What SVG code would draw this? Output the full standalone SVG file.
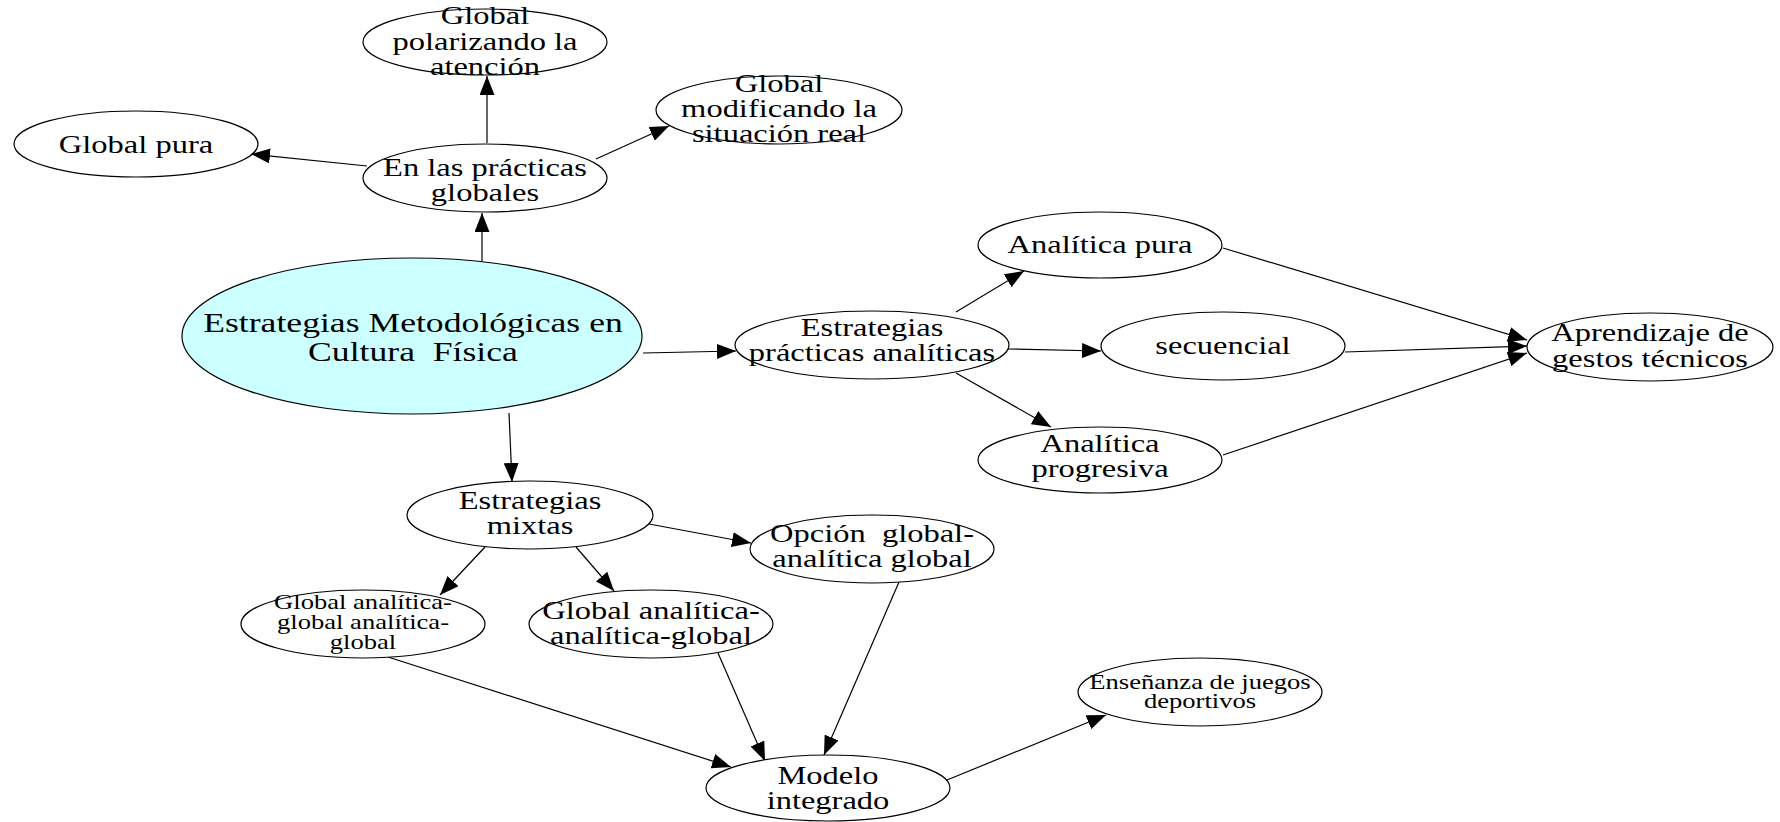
<svg xmlns="http://www.w3.org/2000/svg" width="1780" height="822" viewBox="0 0 1780 822">
<defs>
<marker id="ah" markerUnits="userSpaceOnUse" markerWidth="19" markerHeight="15" refX="19" refY="7.5" orient="auto">
<path d="M0,0 L19,7.5 L0,15 z" fill="#000"/>
</marker>
<style>
ellipse{fill:#fff;stroke:#000;stroke-width:1.2}
.main ellipse{fill:#ccffff}
text{font-family:"Liberation Serif","Times New Roman",serif;font-size:25px;fill:#000;text-anchor:middle;white-space:pre}
.m{font-size:27px}
.s{font-size:20px}
#edges line{stroke:#000;stroke-width:1.2;marker-end:url(#ah)}
</style>
</defs>
<rect width="1780" height="822" fill="#fff"/>
<g id="edges">
<line x1="482" y1="278" x2="482" y2="213"/>
<line x1="487" y1="143" x2="487" y2="76"/>
<line x1="367" y1="166" x2="251" y2="154"/>
<line x1="596" y1="159" x2="669" y2="126"/>
<line x1="643" y1="353" x2="736" y2="351"/>
<line x1="509" y1="413" x2="512" y2="482"/>
<line x1="956" y1="312" x2="1024" y2="271"/>
<line x1="1008" y1="349" x2="1101" y2="351"/>
<line x1="956" y1="373" x2="1051" y2="427"/>
<line x1="1223" y1="248" x2="1527" y2="340"/>
<line x1="1345" y1="352" x2="1527" y2="346"/>
<line x1="1223" y1="455" x2="1527" y2="353"/>
<line x1="649" y1="524" x2="751" y2="543"/>
<line x1="485" y1="547" x2="440" y2="595"/>
<line x1="576" y1="547" x2="614" y2="591"/>
<line x1="388" y1="657" x2="731" y2="767"/>
<line x1="718" y1="653" x2="765" y2="761"/>
<line x1="899" y1="582" x2="824" y2="755"/>
<line x1="947" y1="780" x2="1106" y2="715"/>
</g>
<g id="n_main" class="main">
<ellipse cx="412" cy="336" rx="230" ry="78"/>
<text class="m" transform="translate(413,0) scale(1.32,1)"><tspan x="0" y="332">Estrategias Metodológicas en</tspan><tspan x="0" y="361">Cultura  Física</tspan></text>
</g>
<g id="n_practicas_globales">
<ellipse cx="485" cy="178" rx="122" ry="34"/>
<text transform="translate(485,0) scale(1.3,1)"><tspan x="0" y="176">En las prácticas</tspan><tspan x="0" y="201">globales</tspan></text>
</g>
<g id="n_polarizando">
<ellipse cx="485" cy="42" rx="122" ry="33"/>
<text transform="translate(485,0) scale(1.3,1)"><tspan x="0" y="24">Global</tspan><tspan x="0" y="50">polarizando la</tspan><tspan x="0" y="75">atención</tspan></text>
</g>
<g id="n_global_pura">
<ellipse cx="136" cy="144" rx="122" ry="33"/>
<text transform="translate(136,0) scale(1.3,1)"><tspan x="0" y="153">Global pura</tspan></text>
</g>
<g id="n_modificando">
<ellipse cx="779" cy="110" rx="123" ry="34"/>
<text transform="translate(779,0) scale(1.3,1)"><tspan x="0" y="92">Global</tspan><tspan x="0" y="117">modificando la</tspan><tspan x="0" y="142">situación real</tspan></text>
</g>
<g id="n_practicas_analiticas">
<ellipse cx="872" cy="345" rx="137" ry="34"/>
<text transform="translate(872,0) scale(1.3,1)"><tspan x="0" y="336">Estrategias</tspan><tspan x="0" y="361">prácticas analíticas</tspan></text>
</g>
<g id="n_analitica_pura">
<ellipse cx="1100" cy="245" rx="122" ry="33"/>
<text transform="translate(1100,0) scale(1.3,1)"><tspan x="0" y="253">Analítica pura</tspan></text>
</g>
<g id="n_secuencial">
<ellipse cx="1223" cy="346" rx="122" ry="34"/>
<text transform="translate(1223,0) scale(1.3,1)"><tspan x="0" y="354">secuencial</tspan></text>
</g>
<g id="n_analitica_progresiva">
<ellipse cx="1100" cy="460" rx="122" ry="33"/>
<text transform="translate(1100,0) scale(1.3,1)"><tspan x="0" y="452">Analítica</tspan><tspan x="0" y="477">progresiva</tspan></text>
</g>
<g id="n_aprendizaje">
<ellipse cx="1650" cy="347" rx="123" ry="34"/>
<text transform="translate(1650,0) scale(1.3,1)"><tspan x="0" y="341">Aprendizaje de</tspan><tspan x="0" y="367">gestos técnicos</tspan></text>
</g>
<g id="n_mixtas">
<ellipse cx="530" cy="515" rx="123" ry="34"/>
<text transform="translate(530,0) scale(1.3,1)"><tspan x="0" y="509">Estrategias</tspan><tspan x="0" y="534">mixtas</tspan></text>
</g>
<g id="n_opcion">
<ellipse cx="872" cy="549" rx="122" ry="34"/>
<text transform="translate(872,0) scale(1.3,1)"><tspan x="0" y="542">Opción  global-</tspan><tspan x="0" y="567">analítica global</tspan></text>
</g>
<g id="n_gagag">
<ellipse cx="363" cy="624" rx="122" ry="34"/>
<text class="s" transform="translate(363,0) scale(1.33,1)"><tspan x="0" y="609">Global analítica-</tspan><tspan x="0" y="629">global analítica-</tspan><tspan x="0" y="649">global</tspan></text>
</g>
<g id="n_gaag">
<ellipse cx="651" cy="624" rx="122" ry="34"/>
<text transform="translate(651,0) scale(1.3,1)"><tspan x="0" y="619">Global analítica-</tspan><tspan x="0" y="644">analítica-global</tspan></text>
</g>
<g id="n_modelo">
<ellipse cx="828" cy="788" rx="122" ry="33"/>
<text transform="translate(828,0) scale(1.3,1)"><tspan x="0" y="784">Modelo</tspan><tspan x="0" y="809">integrado</tspan></text>
</g>
<g id="n_ensenanza">
<ellipse cx="1200" cy="692" rx="122" ry="34"/>
<text class="s" transform="translate(1200,0) scale(1.33,1)"><tspan x="0" y="689">Enseñanza de juegos</tspan><tspan x="0" y="708">deportivos</tspan></text>
</g>
</svg>
